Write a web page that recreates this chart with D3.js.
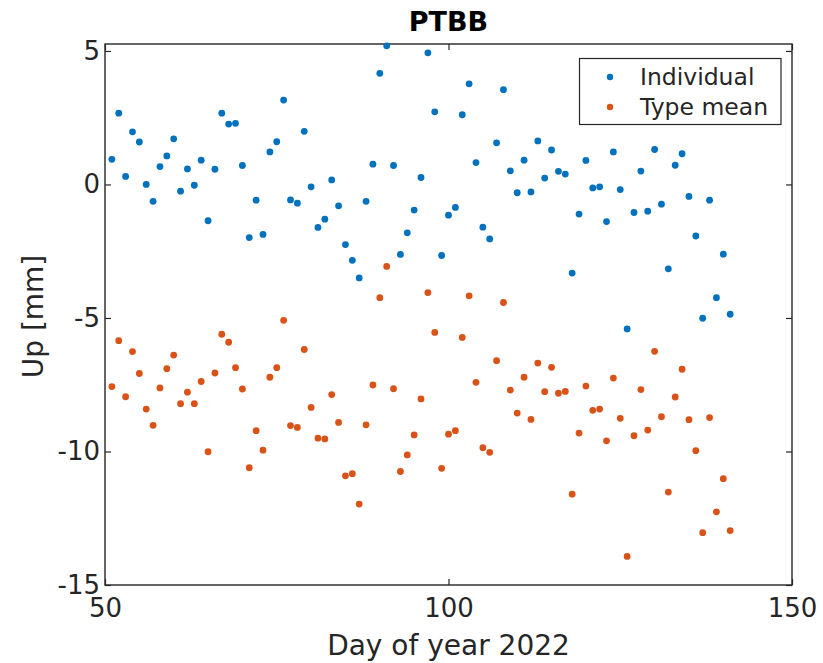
<!DOCTYPE html>
<html lang="en">

<head>
    <meta charset="utf-8" />
    <title>PTBB</title>
    <script src="https://d3js.org/d3.v7.min.js"></script>
    <style>
        body { margin: 0; background: #fff; }
        text { font-family: "DejaVu Sans", sans-serif; fill: #262626; }
    </style>
</head>

<body>
    <script>
        var w = 823;
        var h = 663;

        // day of year 2022
        var days = [51, 52, 53, 54, 55, 56, 57, 58, 59, 60, 61, 62, 63, 64, 65, 66, 67, 68, 69, 70,
            71, 72, 73, 74, 75, 76, 77, 78, 79, 80, 81, 82, 83, 84, 85, 86, 87, 88, 89, 90,
            91, 92, 93, 94, 95, 96, 97, 98, 99, 100, 101, 102, 103, 104, 105, 106, 107, 108, 109, 110,
            111, 112, 113, 114, 115, 116, 117, 118, 119, 120, 121, 122, 123, 124, 125, 126, 127, 128, 129, 130,
            131, 132, 133, 134, 135, 136, 137, 138, 139, 140, 141];

        var individual = [0.94, 2.67, 0.30, 1.97, 1.59, 0.00, -0.63, 0.67, 1.07, 1.71,
            -0.25, 0.58, -0.03, 0.91, -1.36, 0.57, 2.67, 2.26, 2.29, 0.71,
            -1.99, -0.59, -1.87, 1.22, 1.60, 3.16, -0.58, -0.70, 1.99, -0.09,
            -1.61, -1.30, 0.17, -0.80, -2.25, -2.84, -3.50, -0.63, 0.76, 4.16,
            5.19, 0.71, -2.62, -1.81, -0.96, 0.26, 4.93, 2.72, -2.66, -1.15,
            -0.86, 2.61, 3.77, 0.82, -1.60, -2.04, 1.56, 3.55, 0.51, -0.31,
            0.91, -0.28, 1.63, 0.24, 1.29, 0.49, 0.39, -3.32, -1.11, 0.90,
            -0.13, -0.09, -1.39, 1.22, -0.19, -5.41, -1.05, 0.50, -1.00, 1.31,
            -0.74, -3.16, 0.72, 1.15, -0.45, -1.93, -5.01, -0.59, -4.24, -2.61,
            -4.86];

        var typeMean = [-7.57, -5.85, -7.95, -6.26, -7.08, -8.41, -9.02, -7.62, -6.90, -6.39,
            -8.21, -7.78, -8.21, -7.38, -10.01, -7.06, -5.61, -5.91, -6.86, -7.66,
            -10.61, -9.22, -9.95, -7.22, -6.86, -5.09, -9.03, -9.10, -6.18, -8.35,
            -9.50, -9.53, -7.87, -8.91, -10.91, -10.83, -11.97, -9.00, -7.51, -4.24,
            -3.07, -7.65, -10.75, -10.13, -9.38, -8.03, -4.05, -5.54, -10.63, -9.35,
            -9.22, -5.73, -4.17, -7.41, -9.86, -10.03, -6.60, -4.42, -7.70, -8.56,
            -7.22, -8.80, -6.69, -7.76, -6.85, -7.82, -7.75, -11.60, -9.31, -7.55,
            -8.46, -8.41, -9.60, -7.25, -8.76, -13.93, -9.41, -7.68, -9.20, -6.25,
            -8.70, -11.52, -7.96, -6.92, -8.81, -9.97, -13.04, -8.73, -12.26, -11.02,
            -12.96];

        var xTicks = [50, 100, 150];
        var yTicks = [-15, -10, -5, 0, 5];
        var seriesNames = ["Individual", "Type mean"];
        var colors = ["#0072BD", "#D95319"];

        // plot box (note: "top" is taken by window.top)
        var boxL = 105, boxR = 792, boxT = 44, boxB = 585;

        var svg = d3.select("body").append("svg").attr("width", w).attr("height", h);

        var x = d3.scaleLinear().domain([50, 150]).range([boxL, boxR]);
        var y = d3.scaleLinear().domain([-15, 5.26]).range([boxB, boxT]);

        var axisColor = "#262626";

        // axes (ticks pointing inward like matlab)
        var gx = svg.append("g").attr("transform", "translate(0," + boxB + ")")
            .call(d3.axisBottom(x).tickValues(xTicks).tickSizeInner(-6).tickSizeOuter(0).tickPadding(14));
        var gxt = svg.append("g").attr("transform", "translate(0," + boxT + ")")
            .call(d3.axisTop(x).tickValues(xTicks).tickSizeInner(-6).tickSizeOuter(0).tickFormat(""));
        var gy = svg.append("g").attr("transform", "translate(" + boxL + ",0)")
            .call(d3.axisLeft(y).tickValues(yTicks).tickSizeInner(-6).tickSizeOuter(0).tickPadding(5));
        var gyr = svg.append("g").attr("transform", "translate(" + boxR + ",0)")
            .call(d3.axisRight(y).tickValues(yTicks).tickSizeInner(-6).tickSizeOuter(0).tickFormat(""));

        [gx, gxt, gy, gyr].forEach(function (g) {
            g.select(".domain").remove();
            g.selectAll("line").attr("stroke", axisColor).attr("stroke-width", 1.2);
            g.selectAll("text").attr("font-size", 26).attr("font-family", "DejaVu Sans").attr("fill", axisColor);
        });
        gy.selectAll("text").text(function (d) { return d; });

        svg.append("rect").attr("x", boxL).attr("y", boxT)
            .attr("width", boxR - boxL).attr("height", boxB - boxT)
            .attr("fill", "none").attr("stroke", axisColor).attr("stroke-width", 1.4);

        // points
        var series = [individual, typeMean];
        series.forEach(function (vals, s) {
            svg.append("g").selectAll("circle").data(vals).enter().append("circle")
                .attr("cx", function (d, i) { return x(days[i]); })
                .attr("cy", function (d) { return y(d); })
                .attr("r", 3.4)
                .style("fill", colors[s]);
        });

        // labels
        svg.append("text").attr("x", (boxL + boxR) / 2).attr("y", 31)
            .attr("text-anchor", "middle").attr("font-size", 27).attr("font-weight", "bold")
            .style("fill", "#000").text("PTBB");
        svg.append("text").attr("x", (boxL + boxR) / 2).attr("y", 655)
            .attr("text-anchor", "middle").attr("font-size", 28).text("Day of year 2022");
        svg.append("text").attr("transform", "translate(43," + ((boxT + boxB) / 2 + 2) + ") rotate(-90)")
            .attr("text-anchor", "middle").attr("font-size", 28).text("Up [mm]");

        // legend
        var lg = svg.append("g");
        lg.append("rect").attr("x", 579.5).attr("y", 58.5).attr("width", 201.5).attr("height", 66)
            .attr("fill", "#fff").attr("stroke", axisColor).attr("stroke-width", 1.2);
        seriesNames.forEach(function (name, i) {
            lg.append("circle").attr("cx", 610).attr("cy", 77 + i * 30).attr("r", 3.2).style("fill", colors[i]);
            lg.append("text").attr("x", 640).attr("y", 85 + i * 29.5).attr("font-size", 23.5).text(name);
        });
    </script>
</body>

</html>
